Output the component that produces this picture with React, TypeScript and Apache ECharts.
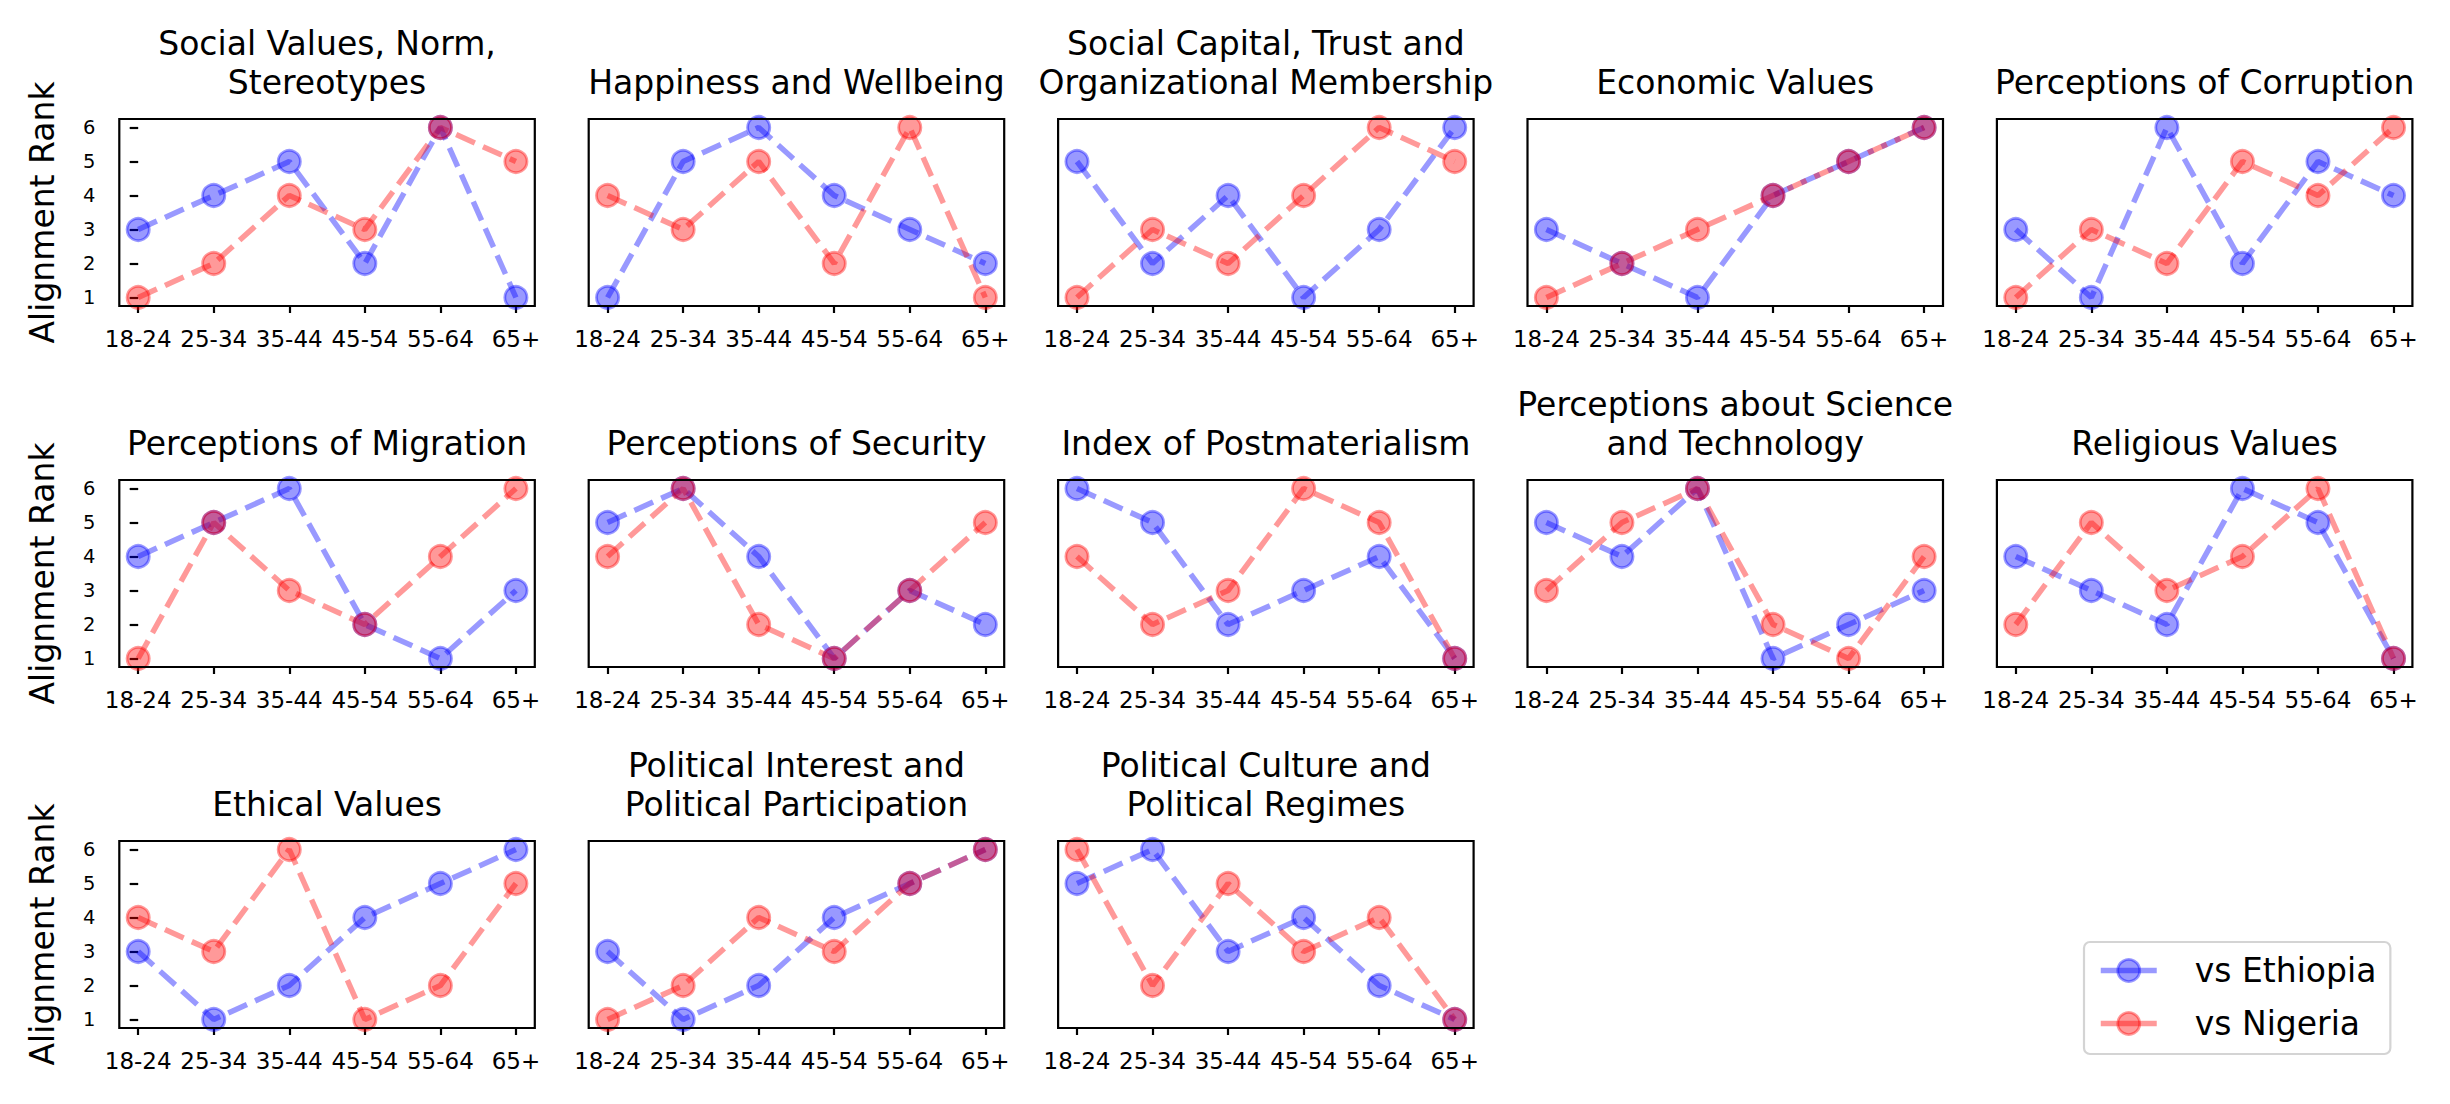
import React, { useEffect, useRef } from "react";
import * as echarts from "echarts";

const AGE_GROUPS = ["18-24", "25-34", "35-44", "45-54", "55-64", "65+"];
const Y_TICKS = [1, 2, 3, 4, 5, 6];
const X_TICKS = [0, 1, 2, 3, 4, 5];

const PANEL_TITLES = [
  "Social Values, Norm,\nStereotypes",
  "Happiness and Wellbeing",
  "Social Capital, Trust and\nOrganizational Membership",
  "Economic Values",
  "Perceptions of Corruption",
  "Perceptions of Migration",
  "Perceptions of Security",
  "Index of Postmaterialism",
  "Perceptions about Science\nand Technology",
  "Religious Values",
  "Ethical Values",
  "Political Interest and\nPolitical Participation",
  "Political Culture and\nPolitical Regimes",
];

const VS_ETHIOPIA = [
  [3, 4, 5, 2, 6, 1],
  [1, 5, 6, 4, 3, 2],
  [5, 2, 4, 1, 3, 6],
  [3, 2, 1, 4, 5, 6],
  [3, 1, 6, 2, 5, 4],
  [4, 5, 6, 2, 1, 3],
  [5, 6, 4, 1, 3, 2],
  [6, 5, 2, 3, 4, 1],
  [5, 4, 6, 1, 2, 3],
  [4, 3, 2, 6, 5, 1],
  [3, 1, 2, 4, 5, 6],
  [3, 1, 2, 4, 5, 6],
  [5, 6, 3, 4, 2, 1],
];

const VS_NIGERIA = [
  [1, 2, 4, 3, 6, 5],
  [4, 3, 5, 2, 6, 1],
  [1, 3, 2, 4, 6, 5],
  [1, 2, 3, 4, 5, 6],
  [1, 3, 2, 5, 4, 6],
  [1, 5, 3, 2, 4, 6],
  [4, 6, 2, 1, 3, 5],
  [4, 2, 3, 6, 5, 1],
  [3, 5, 6, 2, 1, 4],
  [2, 5, 3, 4, 6, 1],
  [4, 3, 6, 1, 2, 5],
  [1, 2, 4, 3, 5, 6],
  [6, 2, 5, 3, 4, 1],
];

const SERIES_NAMES = ["vs Ethiopia", "vs Nigeria"];
const SERIES_COLORS = ["rgba(0,0,255,0.4)", "rgba(255,0,0,0.4)"];

const W = 2450;
const H = 1104;
const FONT = '"DejaVu Sans", sans-serif';
const GRID_LEFT0 = 119.3;
const COL_STEP = 469.4;
const GRID_W = 415.5;
const ROW_TOP0 = 119;
const ROW_STEP = 361;
const GRID_H = 187;

function buildOption() {
  const grids: any[] = [];
  const xAxes: any[] = [];
  const yAxes: any[] = [];
  const titles: any[] = [];
  const series: any[] = [];

  PANEL_TITLES.forEach((title, i) => {
    const row = Math.floor(i / 5);
    const col = i % 5;
    const left = GRID_LEFT0 + col * COL_STEP;
    const top = ROW_TOP0 + row * ROW_STEP;
    grids.push({
      left,
      top,
      width: GRID_W,
      height: GRID_H,
      show: true,
      borderColor: "#000",
      borderWidth: 2.2,
      backgroundColor: "transparent",
      z: 5,
    });
    xAxes.push({
      type: "value",
      gridIndex: i,
      min: -0.25,
      max: 5.25,
      axisLine: { show: false },
      splitLine: { show: false },
      axisTick: {
        show: true,
        customValues: X_TICKS,
        length: 7,
        lineStyle: { color: "#000", width: 2.2 },
      },
      axisLabel: {
        show: true,
        customValues: X_TICKS,
        margin: 21,
        fontSize: 23,
        fontFamily: FONT,
        color: "#000",
        formatter: (v: number) => AGE_GROUPS[Math.round(v)] ?? "",
      },
    });
    const isFirstCol = col === 0;
    yAxes.push({
      type: "value",
      gridIndex: i,
      min: 0.75,
      max: 6.25,
      axisLine: { show: false },
      splitLine: { show: false },
      name: isFirstCol ? "Alignment Rank" : "",
      nameLocation: "middle",
      nameRotate: 90,
      nameGap: 60,
      nameTextStyle: { fontSize: 33, fontFamily: FONT, color: "#000" },
      axisTick: {
        show: isFirstCol,
        customValues: Y_TICKS,
        length: 8.5,
        lineStyle: { color: "#000", width: 2.2 },
      },
      axisLabel: {
        show: isFirstCol,
        customValues: Y_TICKS,
        margin: 24,
        fontSize: 19.5,
        fontFamily: FONT,
        color: "#000",
      },
    });
    titles.push({
      text: title,
      left: left + GRID_W / 2,
      top: top - 16.6,
      textAlign: "center",
      textVerticalAlign: "bottom",
      padding: 0,
      textStyle: {
        fontSize: 33,
        fontWeight: "normal",
        fontFamily: FONT,
        color: "#000",
        lineHeight: 39.6,
      },
    });
    [VS_ETHIOPIA[i], VS_NIGERIA[i]].forEach((vals, s) => {
      series.push({
        type: "line",
        name: SERIES_NAMES[s],
        xAxisIndex: i,
        yAxisIndex: i,
        data: vals.map((v, j) => [X_TICKS[j], v]),
        symbol: "circle",
        symbolSize: 22.2,
        showAllSymbol: true,
        clip: false,
        itemStyle: {
          color: SERIES_COLORS[s],
          borderColor: SERIES_COLORS[s],
          borderWidth: 2.8,
        },
        lineStyle: {
          color: SERIES_COLORS[s],
          width: 5.5,
          type: [20.5, 8.9],
        },
        emphasis: { disabled: true },
        z: 2,
      });
    });
  });

  return {
    animation: false,
    backgroundColor: "#fff",
    textStyle: { fontFamily: FONT },
    title: titles,
    grid: grids,
    xAxis: xAxes,
    yAxis: yAxes,
    series,
    legend: {
      data: SERIES_NAMES,
      orient: "vertical",
      left: 2084,
      top: 942,
      padding: [12, 14, 14, 14],
      itemWidth: 56,
      itemHeight: 27.5,
      itemGap: 20,
      backgroundColor: "#fff",
      borderColor: "#d4d4d4",
      borderWidth: 2.2,
      borderRadius: 6,
      selectedMode: false,
      lineStyle: { type: "solid", width: 5.5 },
      itemStyle: { borderWidth: 2.8 },
      textStyle: {
        fontSize: 33,
        fontFamily: FONT,
        color: "#000",
        padding: [0, 0, 0, 33],
      },
    },
  };
}

export default function App() {
  const ref = useRef<HTMLDivElement>(null);
  useEffect(() => {
    document.body.style.margin = "0";
    if (!ref.current) return;
    const chart = echarts.init(ref.current, undefined, { renderer: "svg" });
    chart.setOption(buildOption() as any);
    return () => chart.dispose();
  }, []);
  return <div ref={ref} style={{ width: W, height: H }} />;
}
